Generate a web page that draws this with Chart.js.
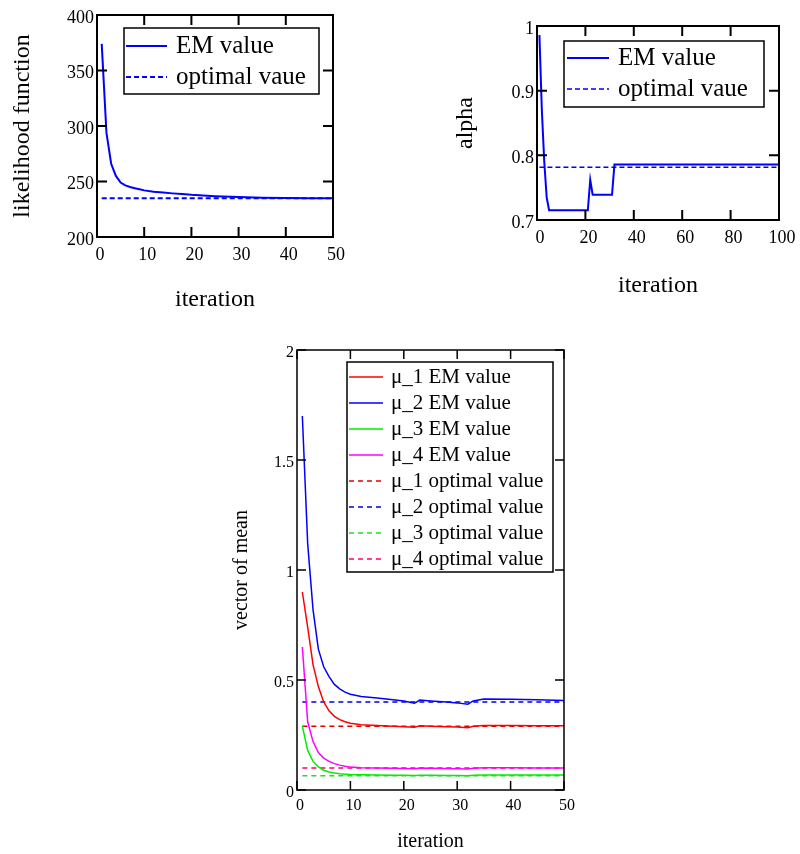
<!DOCTYPE html>
<html>
<head>
<meta charset="utf-8">
<script src="https://cdn.jsdelivr.net/npm/chart.js@4.4.1/dist/chart.umd.min.js"></script>
<style>
  html, body { margin: 0; padding: 0; background: #fff; }
  #page { position: relative; width: 800px; height: 854px; overflow: hidden; }
  canvas { position: absolute; }
</style>
</head>
<body>
<div id="page">
  <canvas id="likeChart" width="360" height="320" style="left:0;top:0"></canvas>
  <canvas id="alphaChart" width="360" height="310" style="left:440px;top:0"></canvas>
  <canvas id="meanChart" width="370" height="524" style="left:220px;top:330px"></canvas>
</div>
<script>
// likelihood function vs iteration
const likeIter = [1, 2, 3, 4, 5, 6, 7, 8, 9, 10, 12, 14, 16, 18, 20, 25, 30, 35, 40, 45, 50];
const likeEM = [374, 294, 266, 255, 249, 246.5, 245, 244, 243, 242, 240.8, 240, 239.3, 238.7, 238, 236.8, 236, 235.4, 235.1, 235, 235];
const likeOpt = 235;

// alpha vs iteration
const alphaIter = [1, 2, 3, 4, 5, 21, 22, 23, 31, 32, 100];
const alphaEM = [0.986, 0.87, 0.79, 0.735, 0.715, 0.715, 0.762, 0.739, 0.739, 0.786, 0.786];
const alphaOpt = 0.7815;

// vector of mean vs iteration
const muIter = [1, 2, 3, 4, 5, 6, 7, 8, 9, 10, 12, 15, 18, 20, 22, 23, 25, 28, 30, 32, 33, 35, 40, 45, 50];
const mu1EM = [0.9, 0.74, 0.57, 0.47, 0.40, 0.36, 0.335, 0.32, 0.31, 0.303, 0.297, 0.293, 0.29, 0.288, 0.285, 0.292, 0.29, 0.288, 0.286, 0.283, 0.29, 0.293, 0.293, 0.292, 0.292];
const mu2EM = [1.7, 1.12, 0.82, 0.64, 0.56, 0.515, 0.48, 0.46, 0.445, 0.435, 0.425, 0.418, 0.41, 0.405, 0.394, 0.409, 0.405, 0.4, 0.396, 0.39, 0.405, 0.414, 0.413, 0.41, 0.407];
const mu3EM = [0.29, 0.18, 0.13, 0.105, 0.09, 0.082, 0.077, 0.074, 0.072, 0.07, 0.069, 0.068, 0.067, 0.067, 0.066, 0.067, 0.067, 0.066, 0.066, 0.065, 0.067, 0.068, 0.068, 0.068, 0.068];
const mu4EM = [0.65, 0.31, 0.22, 0.17, 0.145, 0.13, 0.12, 0.113, 0.108, 0.104, 0.101, 0.1, 0.099, 0.098, 0.097, 0.1, 0.099, 0.098, 0.097, 0.096, 0.099, 0.101, 0.101, 0.1, 0.1];
const muOpt = [0.29, 0.4, 0.065, 0.1];
const muNames = ['μ_1', 'μ_2', 'μ_3', 'μ_4'];

const SERIF = "'Liberation Serif', 'Times New Roman', serif";

function pts(xs, ys) {
    return xs.map((x, i) => ({x: x, y: ys[i]}));
}
function flat(xs, v) {
    return [{x: xs[0], y: v}, {x: xs[xs.length - 1], y: v}];
}

// box + inward ticks on all four sides
const frameTicks = {
    id: 'frameTicks',
    afterDatasetsDraw(chart, args, opts) {
        const {ctx, chartArea: a, scales} = chart;
        const L = opts.len;
        ctx.save();
        ctx.strokeStyle = '#000';
        ctx.lineWidth = opts.lw;
        ctx.beginPath();
        scales.x.ticks.forEach(t => {
            const px = scales.x.getPixelForValue(t.value);
            ctx.moveTo(px, a.bottom); ctx.lineTo(px, a.bottom - L);
            ctx.moveTo(px, a.top); ctx.lineTo(px, a.top + L);
        });
        scales.y.ticks.forEach(t => {
            const py = scales.y.getPixelForValue(t.value);
            ctx.moveTo(a.left, py); ctx.lineTo(a.left + L, py);
            ctx.moveTo(a.right, py); ctx.lineTo(a.right - L, py);
        });
        ctx.stroke();
        ctx.strokeRect(a.left, a.top, a.right - a.left, a.bottom - a.top);
        ctx.restore();
    }
};

// legend drawn in a framed box inside the plot
const boxLegend = {
    id: 'boxLegend',
    afterDraw(chart, args, o) {
        const ctx = chart.ctx;
        ctx.save();
        ctx.fillStyle = '#fff';
        ctx.fillRect(o.x, o.y, o.w, o.h);
        ctx.strokeStyle = '#000';
        ctx.lineWidth = o.lw;
        ctx.strokeRect(o.x, o.y, o.w, o.h);
        ctx.font = o.size + 'px ' + SERIF;
        ctx.textBaseline = 'middle';
        chart.data.datasets.forEach((ds, i) => {
            const y = o.y + o.first + i * o.row;
            ctx.strokeStyle = ds.borderColor;
            ctx.lineWidth = ds.borderWidth;
            ctx.setLineDash(ds.borderDash || []);
            ctx.beginPath();
            ctx.moveTo(o.x + o.s0, y);
            ctx.lineTo(o.x + o.s1, y);
            ctx.stroke();
            ctx.setLineDash([]);
            ctx.fillStyle = '#000';
            ctx.fillText(ds.label, o.x + o.tx, y);
        });
        ctx.restore();
    }
};

const plainNum = v => String(+Number(v).toFixed(3));

function axes(cfg) {
    return {
        x: {
            type: 'linear', min: cfg.xmin, max: cfg.xmax,
            afterFit: s => { s.height = cfg.xh; },
            grid: {display: false, drawTicks: false}, border: {display: false},
            ticks: {stepSize: cfg.xstep, color: '#000', padding: cfg.xpad, labelOffset: 3,
                    callback: plainNum, font: {family: SERIF, size: cfg.tick}},
            title: {display: true, text: 'iteration', color: '#000',
                    font: {family: SERIF, size: cfg.title, lineHeight: 1.2},
                    padding: {top: 0, bottom: cfg.xtpad}}
        },
        y: {
            type: 'linear', min: cfg.ymin, max: cfg.ymax,
            afterFit: s => { s.width = cfg.yw; },
            grid: {display: false, drawTicks: false}, border: {display: false},
            ticks: {stepSize: cfg.ystep, color: '#000', padding: 3, labelOffset: 3,
                    callback: plainNum, font: {family: SERIF, size: cfg.tick}},
            title: {display: true, text: cfg.ytitle, color: '#000',
                    font: {family: SERIF, size: cfg.title, lineHeight: 1.2},
                    padding: {top: cfg.ytpad, bottom: 0}}
        }
    };
}

const base = {
    responsive: false,
    animation: false,
    events: [],
    elements: {point: {radius: 0}, line: {tension: 0}},
    plugins: {legend: {display: false}, tooltip: {enabled: false}}
};

new Chart(document.getElementById('likeChart'), {
    type: 'line',
    data: {
        datasets: [
            {label: 'EM value', data: pts(likeIter, likeEM), borderColor: '#0000ff', borderWidth: 2},
            {label: 'optimal vaue', data: flat(likeIter, likeOpt), borderColor: '#0000ff', borderWidth: 2, borderDash: [5, 3]}
        ]
    },
    options: Object.assign({}, base, {
        layout: {padding: {top: 15, right: 27, bottom: 0, left: 0}},
        scales: axes({xmin: 0, xmax: 50, xstep: 10, ymin: 200, ymax: 400, ystep: 50,
                      xh: 83, yw: 97, tick: 18, title: 24, xpad: 7, xtpad: 6, ytpad: 8,
                      ytitle: 'likelihood function'}),
        plugins: Object.assign({}, base.plugins, {
            frameTicks: {len: 10, lw: 2},
            boxLegend: {x: 124, y: 28, w: 195, h: 66, lw: 1.5, size: 25, first: 18, row: 31, s0: 2, s1: 43, tx: 52}
        })
    }),
    plugins: [frameTicks, boxLegend]
});

new Chart(document.getElementById('alphaChart'), {
    type: 'line',
    data: {
        datasets: [
            {label: 'EM value', data: pts(alphaIter, alphaEM), borderColor: '#0000ff', borderWidth: 2},
            {label: 'optimal vaue', data: flat(alphaIter, alphaOpt), borderColor: '#0000ff', borderWidth: 1.5, borderDash: [5, 3]}
        ]
    },
    options: Object.assign({}, base, {
        layout: {padding: {top: 26, right: 21, bottom: 0, left: 0}},
        scales: axes({xmin: 0, xmax: 100, xstep: 20, ymin: 0.7, ymax: 1, ystep: 0.1,
                      xh: 90, yw: 97, tick: 18, title: 24, xpad: 7, xtpad: 10, ytpad: 11,
                      ytitle: 'alpha'}),
        plugins: Object.assign({}, base.plugins, {
            frameTicks: {len: 10, lw: 2},
            boxLegend: {x: 124, y: 41, w: 200, h: 66, lw: 1.5, size: 25, first: 17, row: 31, s0: 3, s1: 45, tx: 54}
        })
    }),
    plugins: [frameTicks, boxLegend]
});

const emColors = ['#ff0000', '#0000ff', '#00ee00', '#ff00ff'];
const optColors = ['#dd0000', '#0000dd', '#22dd22', '#ff0066'];
const muEM = [mu1EM, mu2EM, mu3EM, mu4EM];
const meanSets = [];
muEM.forEach((vals, i) => {
    meanSets.push({label: muNames[i] + ' EM value', data: pts(muIter, vals), borderColor: emColors[i], borderWidth: 1.5});
});
muOpt.forEach((v, i) => {
    meanSets.push({label: muNames[i] + ' optimal value', data: flat(muIter, v), borderColor: optColors[i], borderWidth: 1.5, borderDash: [5, 4]});
});

new Chart(document.getElementById('meanChart'), {
    type: 'line',
    data: {datasets: meanSets},
    options: Object.assign({}, base, {
        layout: {padding: {top: 20, right: 26, bottom: 0, left: 0}},
        scales: axes({xmin: 0, xmax: 50, xstep: 10, ymin: 0, ymax: 2, ystep: 0.5,
                      xh: 64, yw: 77, tick: 16, title: 20, xpad: 6, xtpad: 0, ytpad: 10,
                      ytitle: 'vector of mean'}),
        plugins: Object.assign({}, base.plugins, {
            frameTicks: {len: 9, lw: 1.5},
            boxLegend: {x: 127, y: 32, w: 206, h: 210, lw: 1.5, size: 21, first: 15, row: 26, s0: 2, s1: 36, tx: 44}
        })
    }),
    plugins: [frameTicks, boxLegend]
});
</script>
</body>
</html>
